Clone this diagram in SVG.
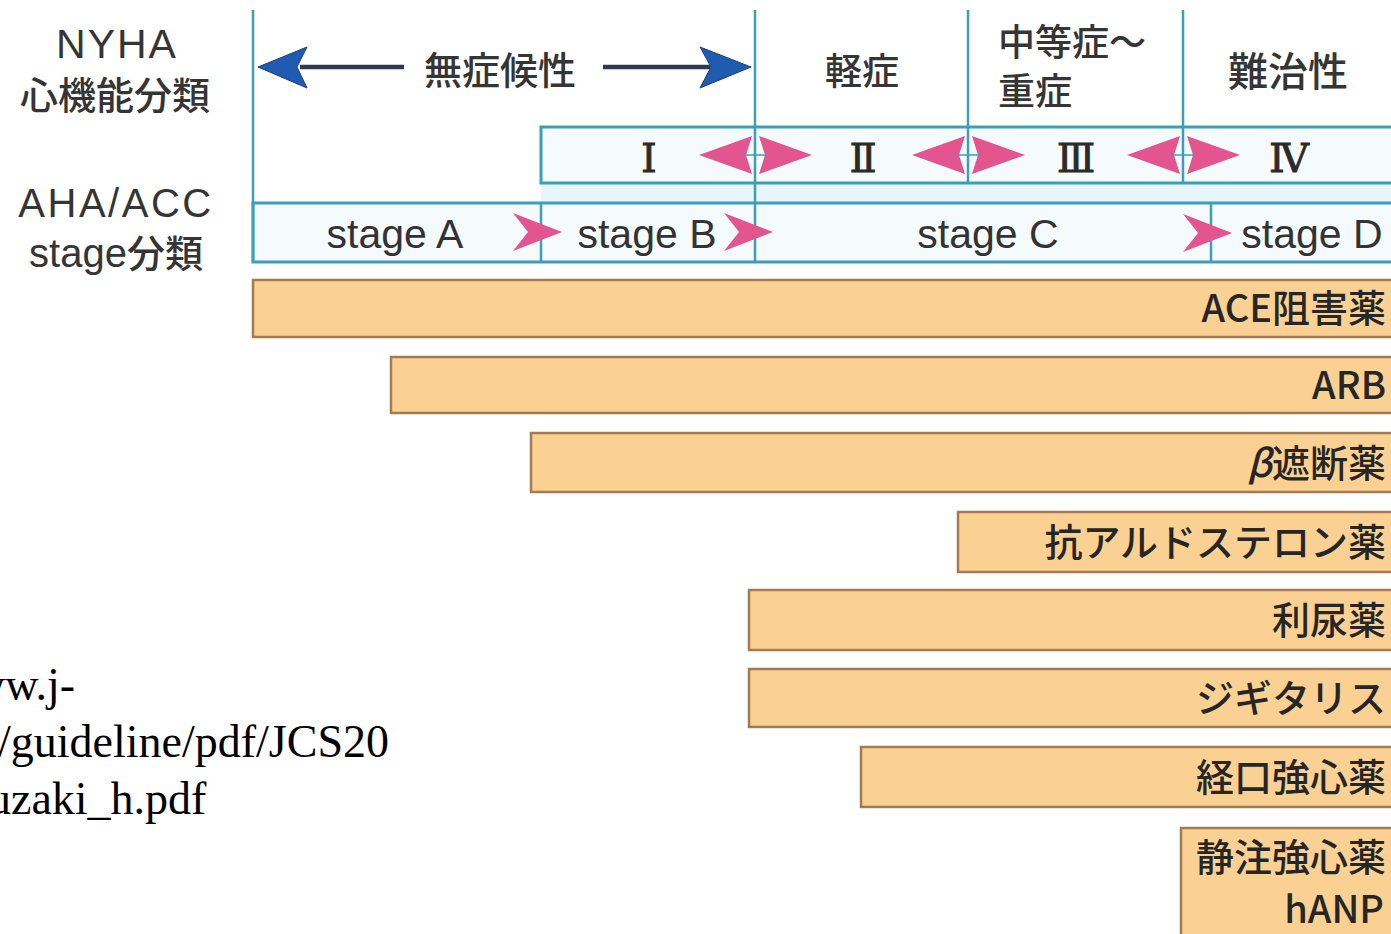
<svg xmlns="http://www.w3.org/2000/svg" width="1391" height="934" viewBox="0 0 1391 934">
<style>
.lbl{font-family:"Liberation Sans","Noto Sans CJK JP",sans-serif;fill:#353535;}
.jp{font-family:"Noto Sans CJK JP",sans-serif;fill:#353535;font-weight:500;}
.bar{fill:#fbd193;stroke:#a37b52;stroke-width:2.5;}
.btx{font-family:"Noto Sans CJK JP",sans-serif;fill:#262626;font-size:38px;font-weight:500;text-anchor:end;}
.grid{stroke:#3c9fb7;stroke-width:2.5;fill:none;}
.row{fill:#f5fbfd;stroke:#3c9fb7;stroke-width:3;}
.rom{font-family:"Liberation Serif","DejaVu Serif",serif;fill:#2a2a2a;font-size:40px;text-anchor:middle;stroke:#2a2a2a;stroke-width:0.8;}
.stg{font-family:"Liberation Sans",sans-serif;fill:#333;font-size:41px;text-anchor:middle;}
.pink{fill:#e2558f;}
.url{font-family:"Liberation Serif",serif;fill:#000;font-size:46px;}
</style>
<defs>
<g id="dbl">
<path class="pink" d="M -56,0 L -3,-19 L -9,0 L -3,19 Z"/>
<path class="pink" d="M 57,0 L 4,-19 L 10,0 L 4,19 Z"/>
<path d="M -11,0 H 11" stroke="#3c9fb7" stroke-width="1.5"/>
</g>
<path id="sgl" class="pink" d="M 0,-19 L 49,0 L 0,19 L 15,0 Z"/>
</defs>
<rect width="1391" height="934" fill="#ffffff"/>

<g id="header-labels">
<text class="lbl" x="117" y="58" font-size="41" letter-spacing="2" text-anchor="middle">NYHA</text>
<text class="jp" x="115" y="109" font-size="38" text-anchor="middle">心機能分類</text>
<text class="lbl" x="116" y="217" font-size="40" letter-spacing="2.5" text-anchor="middle">AHA/ACC</text>
<text class="lbl" x="116" y="267" font-size="40" text-anchor="middle">stage<tspan class="jp" font-size="38">分類</tspan></text>
</g>

<g id="grid">
<rect x="541" y="183" width="860" height="20" fill="#e7f6fa"/>
<rect class="row" x="541" y="127" width="860" height="56"/>
<rect class="row" x="253" y="203" width="1148" height="59"/>
<line class="grid" x1="253" y1="10" x2="253" y2="262"/>
<line class="grid" x1="755" y1="10" x2="755" y2="262"/>
<line class="grid" x1="968" y1="10" x2="968" y2="183"/>
<line class="grid" x1="1183" y1="10" x2="1183" y2="183"/>
<line class="grid" x1="541" y1="203" x2="541" y2="262"/>
<line class="grid" x1="1211" y1="203" x2="1211" y2="262"/>
</g>

<g id="nyha-labels">
<text class="jp" x="500" y="84" font-size="38" text-anchor="middle">無症候性</text>
<text class="jp" x="862" y="85" font-size="37" text-anchor="middle">軽症</text>
<text class="jp" x="998" y="56" font-size="37">中等症～</text>
<text class="jp" x="998" y="105" font-size="37">重症</text>
<text class="jp" x="1288" y="86" font-size="40" text-anchor="middle">難治性</text>
</g>

<g id="connectors">
<line x1="300" y1="67" x2="404" y2="67" stroke="#2d3a4f" stroke-width="4.5"/>
<path d="M 258,67 L 307,47 L 297,67 L 307,88 Z" fill="#1f5bb0" stroke="#1a3f7a" stroke-width="1"/>
<line x1="603" y1="67" x2="710" y2="67" stroke="#2d3a4f" stroke-width="4.5"/>
<path d="M 751,67 L 700,47 L 711,67 L 700,88 Z" fill="#1f5bb0" stroke="#1a3f7a" stroke-width="1"/>
<use href="#dbl" x="755" y="155"/>
<use href="#dbl" x="968" y="155"/>
<use href="#dbl" x="1183" y="155"/>
<use href="#sgl" x="513" y="232"/>
<use href="#sgl" x="724" y="232"/>
<use href="#sgl" x="1183" y="233"/>
</g>

<g id="nyha-classes">
<text class="rom" x="649" y="172">Ⅰ</text>
<text class="rom" x="863" y="172">Ⅱ</text>
<text class="rom" x="1076" y="172">Ⅲ</text>
<text class="rom" x="1289" y="172">Ⅳ</text>
</g>

<g id="stages">
<text class="stg" x="395" y="248">stage A</text>
<text class="stg" x="647" y="248">stage B</text>
<text class="stg" x="988" y="248">stage C</text>
<text class="stg" x="1312" y="248">stage D</text>
</g>

<g id="bar-ace"><rect class="bar" x="253" y="280" width="1150" height="57"/><text class="btx" x="1386" y="322">ACE阻害薬</text></g>
<g id="bar-arb"><rect class="bar" x="391" y="357" width="1012" height="56"/><text class="btx" x="1386" y="399">ARB</text></g>
<g id="bar-beta"><rect class="bar" x="531" y="433" width="872" height="59"/><text class="btx" x="1386" y="477"><tspan font-style="italic">β</tspan>遮断薬</text></g>
<g id="bar-aldo"><rect class="bar" x="958" y="512" width="445" height="60"/><text class="btx" x="1386" y="556">抗アルドステロン薬</text></g>
<g id="bar-diuretic"><rect class="bar" x="749" y="590" width="654" height="60"/><text class="btx" x="1386" y="634">利尿薬</text></g>
<g id="bar-digitalis"><rect class="bar" x="749" y="669" width="654" height="58"/><text class="btx" x="1386" y="712">ジギタリス</text></g>
<g id="bar-oral"><rect class="bar" x="861" y="747" width="542" height="60"/><text class="btx" x="1386" y="791">経口強心薬</text></g>
<g id="bar-iv"><rect class="bar" x="1181" y="828" width="222" height="120"/><text class="btx" x="1386" y="871">静注強心薬</text><text class="btx" x="1384" y="923">hANP</text></g>

<g id="source-url">
<text class="url" x="-28" y="700">ww.j-</text>
<text class="url" x="-2" y="757">/guideline/pdf/JCS20</text>
<text class="url" x="-12" y="814">uzaki_h.pdf</text>
</g>
</svg>
